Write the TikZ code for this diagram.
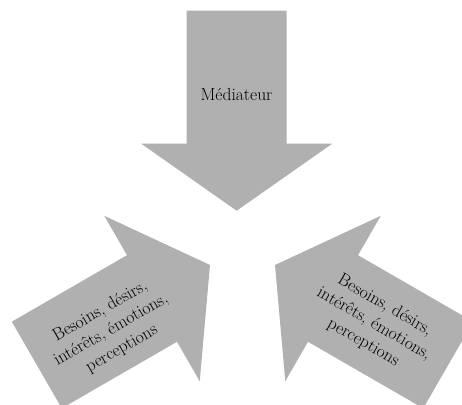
\documentclass[tikz,border=0pt]{standalone}
\usepackage{fontspec}
\usetikzlibrary{calc}

\definecolor{arrowgray}{RGB}{176,176,176}

\tikzset{
  blockarrow/.style={fill=arrowgray},
  arrowtext/.style={align=center, inner sep=0pt, font=\fontsize{17.5}{21.5}\selectfont}
}

% block arrow, tip at the origin, pointing along +x
\newcommand{\blockarrowpath}{(0,0) -- (-67,95.5) -- (-67,50) -- (-200,50) -- (-200,-50) -- (-67,-50) -- (-67,-95.5) -- cycle}

\begin{document}
\begin{tikzpicture}[x=1pt, y=1pt]
    \useasboundingbox (0,0) rectangle (462,404);
    \clip (0,0) rectangle (462,404);

    \begin{scope}[shift={(236.7,193.3)}, rotate=-90]
      \fill[blockarrow] \blockarrowpath;
    \end{scope}
    \begin{scope}[shift={(210,139)}, rotate=30]
      \fill[blockarrow] \blockarrowpath;
    \end{scope}
    \begin{scope}[shift={(275,139)}, rotate=150]
      \fill[blockarrow] \blockarrowpath;
    \end{scope}

    \node[arrowtext] (mediateur) at (236.5,310) {Médiateur};
    \node[arrowtext, rotate=30] (partieA) at (111,74) {Besoins, désirs,\\intérêts, émotions,\\perceptions};
    \node[arrowtext, rotate=-30] (partieB) at (374,80) {Besoins, désirs,\\intérêts, émotions,\\perceptions};
  \end{tikzpicture}
\end{document}
